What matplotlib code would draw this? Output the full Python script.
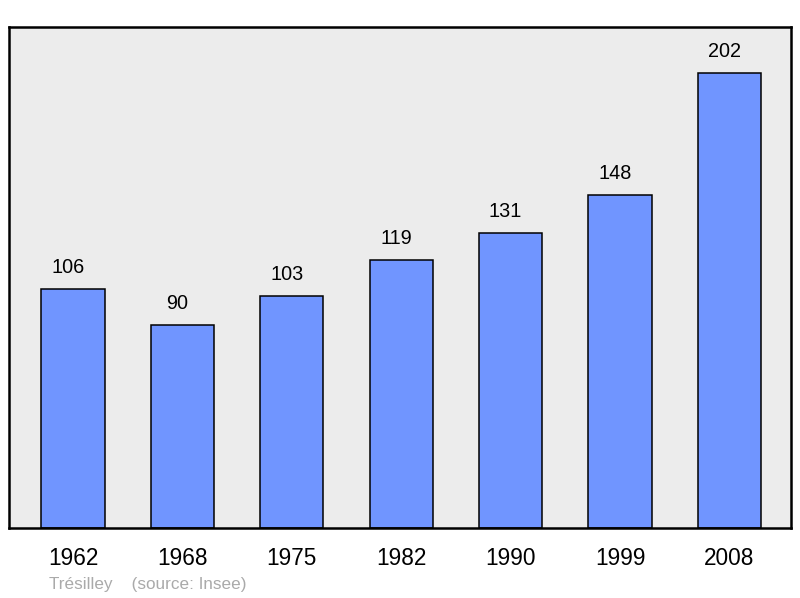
import matplotlib.pyplot as plt
import numpy as np

years = ["1962", "1968", "1975", "1982", "1990", "1999", "2008"]
population = [106, 90, 103, 119, 131, 148, 202]

plt.rcParams['font.family'] = ['Liberation Sans', 'DejaVu Sans']

fig = plt.figure(figsize=(8, 5.98), dpi=100)
ax = fig.add_axes([9 / 800, 70 / 598, 782 / 800, 501 / 598])
ax.set_facecolor('#ececec')

x = np.arange(len(years))
ax.bar(x, population, width=0.576, color='#7095ff', edgecolor='black', linewidth=1.1, zorder=2)

# value labels sit a little left of the bar centre, as in the original
for xi, v in zip(x, population):
    ax.text(xi - 0.045, v + 5.3, str(v), ha='center', va='bottom', fontsize=14.3)

ax.set_xlim(-0.585, 6.563)
ax.set_ylim(0, 222.4)
ax.set_xticks(x)
ax.set_xticklabels(years, fontsize=16.3)
ax.tick_params(axis='x', length=0, pad=14)
ax.set_yticks([])
for s in ax.spines.values():
    s.set_linewidth(1.8)

fig.text(49 / 800, 1 - 584 / 598, "Trésilley    (source: Insee)", color='#aaaaaa',
         fontsize=12.3, va='center', ha='left')

fig.savefig("out.png", dpi=100)
